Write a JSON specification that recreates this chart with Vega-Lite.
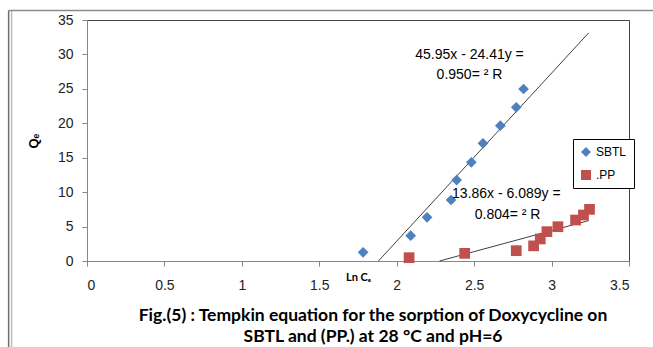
{
  "$schema": "https://vega.github.io/schema/vega-lite/v6.json",
  "width": 542,
  "height": 241,
  "autosize": "none",
  "padding": {"left": 87, "top": 20, "right": 24, "bottom": 86},
  "background": "white",
  "config": {
    "view": {"stroke": "#444", "strokeWidth": 1},
    "font": "Liberation Sans",
    "axis": {"grid": false, "domainColor": "#868686", "tickColor": "#868686", "tickSize": 5, "labelFont": "Liberation Sans", "labelFontSize": 14, "labelColor": "#222", "labelOverlap": false}
  },
  "title": {
    "text": ["Fig.(5) : Tempkin equation for the sorption of Doxycycline on", "SBTL and (PP.) at 28 °C  and pH=6"],
    "orient": "bottom", "anchor": "middle", "font": "Lato", "fontSize": 17.5, "fontWeight": "bold",
    "color": "#000", "lineHeight": 21, "offset": -42, "dx": 15
  },
  "datasets": {
    "points": [
      {"series": "SBTL", "lnCe": 1.783, "qe": 1.26},
      {"series": "SBTL", "lnCe": 2.090, "qe": 3.68},
      {"series": "SBTL", "lnCe": 2.196, "qe": 6.34},
      {"series": "SBTL", "lnCe": 2.351, "qe": 8.86},
      {"series": "SBTL", "lnCe": 2.387, "qe": 11.76},
      {"series": "SBTL", "lnCe": 2.482, "qe": 14.33},
      {"series": "SBTL", "lnCe": 2.557, "qe": 17.09},
      {"series": "SBTL", "lnCe": 2.669, "qe": 19.65},
      {"series": "SBTL", "lnCe": 2.772, "qe": 22.32},
      {"series": "SBTL", "lnCe": 2.819, "qe": 24.98},
      {"series": ".PP", "lnCe": 2.080, "qe": 0.48},
      {"series": ".PP", "lnCe": 2.439, "qe": 1.11},
      {"series": ".PP", "lnCe": 2.772, "qe": 1.5},
      {"series": ".PP", "lnCe": 2.884, "qe": 2.2},
      {"series": ".PP", "lnCe": 2.927, "qe": 3.2},
      {"series": ".PP", "lnCe": 2.970, "qe": 4.26},
      {"series": ".PP", "lnCe": 3.041, "qe": 4.98},
      {"series": ".PP", "lnCe": 3.155, "qe": 5.95},
      {"series": ".PP", "lnCe": 3.206, "qe": 6.68},
      {"series": ".PP", "lnCe": 3.245, "qe": 7.5}
    ],
    "trend": [
      {"series": "SBTL", "lnCe": 1.882, "qe": 0},
      {"series": "SBTL", "lnCe": 3.24, "qe": 33.14},
      {"series": ".PP", "lnCe": 2.276, "qe": 0},
      {"series": ".PP", "lnCe": 3.24, "qe": 5.87}
    ],
    "one": [{}]
  },
  "encoding": {
    "x": {
      "type": "quantitative",
      "scale": {"domain": [0, 3.5], "nice": false},
      "axis": {"values": [0, 0.5, 1, 1.5, 2, 2.5, 3, 3.5], "format": "~g", "labelPadding": 12,
               "title": "Ln Cₑ", "titleFont": "Lato", "titleFontSize": 11, "titleFontWeight": "bold",
               "titleX": 271, "titleY": 16, "titleBaseline": "middle", "titleAlign": "center"}
    },
    "y": {
      "type": "quantitative",
      "scale": {"domain": [0, 35], "nice": false},
      "axis": {"values": [0, 5, 10, 15, 20, 25, 30, 35], "labelPadding": 9,
               "title": "Qₑ", "titleFont": "Liberation Sans", "titleFontSize": 13, "titleFontWeight": "bold", "titlePadding": 17}
    }
  },
  "layer": [
    {
      "data": {"name": "one"},
      "mark": {"type": "rule", "stroke": "#6e6e6e", "strokeWidth": 1.5, "clip": false},
      "encoding": {
        "x": {"datum": -0.506, "type": "quantitative"},
        "y": {"datum": 36.38, "type": "quantitative"},
        "y2": {"datum": -12.6}
      }
    },
    {
      "data": {"name": "one"},
      "mark": {"type": "rule", "stroke": "#bdbdbd", "strokeWidth": 1.5, "clip": false},
      "encoding": {
        "x": {"datum": -0.487, "type": "quantitative"},
        "y": {"datum": 36.38, "type": "quantitative"},
        "y2": {"datum": -12.6}
      }
    },
    {
      "data": {"name": "one"},
      "mark": {"type": "rule", "stroke": "#8c8c8c", "strokeWidth": 1.5, "clip": false},
      "encoding": {
        "x": {"datum": -0.506, "type": "quantitative"},
        "x2": {"datum": 3.7},
        "y": {"datum": 36.38, "type": "quantitative"}
      }
    },
    {
      "data": {"name": "trend"},
      "mark": {"type": "line", "color": "#404040", "strokeWidth": 1},
      "encoding": {
        "x": {"field": "lnCe", "type": "quantitative"},
        "y": {"field": "qe", "type": "quantitative"},
        "detail": {"field": "series"}
      }
    },
    {
      "data": {"name": "points"},
      "mark": {"type": "point", "filled": true, "opacity": 1, "size": 115},
      "encoding": {
        "x": {"field": "lnCe", "type": "quantitative"},
        "y": {"field": "qe", "type": "quantitative"},
        "color": {
          "field": "series", "type": "nominal",
          "scale": {"domain": ["SBTL", ".PP"], "range": ["#4F81BD", "#C0504D"]},
          "legend": {"title": null, "orient": "none", "legendX": 486, "legendY": 119, "strokeColor": "#000", "fillColor": "white", "padding": 7, "labelFontSize": 12, "labelFont": "Liberation Sans", "labelColor": "#000", "symbolSize": 100, "rowPadding": 11, "labelOffset": 4}
        },
        "shape": {
          "field": "series", "type": "nominal",
          "scale": {"domain": ["SBTL", ".PP"], "range": ["diamond", "square"]},
          "legend": {"title": null, "orient": "none", "legendX": 486, "legendY": 119, "strokeColor": "#000", "fillColor": "white", "padding": 7, "labelFontSize": 12, "labelFont": "Liberation Sans", "labelColor": "#000", "symbolSize": 100, "rowPadding": 11, "labelOffset": 4}
        }
      }
    },
    {
      "data": {"name": "one"},
      "mark": {"type": "text", "fontSize": 14, "font": "Liberation Sans", "color": "#000"},
      "encoding": {"x": {"datum": 2.47}, "y": {"datum": 29.9}, "text": {"value": "45.95x - 24.41y ="}}
    },
    {
      "data": {"name": "one"},
      "mark": {"type": "text", "fontSize": 14, "font": "Liberation Sans", "color": "#000"},
      "encoding": {"x": {"datum": 2.47}, "y": {"datum": 27.0}, "text": {"value": "0.950= ² R"}}
    },
    {
      "data": {"name": "one"},
      "mark": {"type": "text", "fontSize": 14, "font": "Liberation Sans", "color": "#000"},
      "encoding": {"x": {"datum": 2.708}, "y": {"datum": 9.69}, "text": {"value": "13.86x - 6.089y ="}}
    },
    {
      "data": {"name": "one"},
      "mark": {"type": "text", "fontSize": 14, "font": "Liberation Sans", "color": "#000"},
      "encoding": {"x": {"datum": 2.716}, "y": {"datum": 6.68}, "text": {"value": "0.804= ² R"}}
    }
  ]
}
